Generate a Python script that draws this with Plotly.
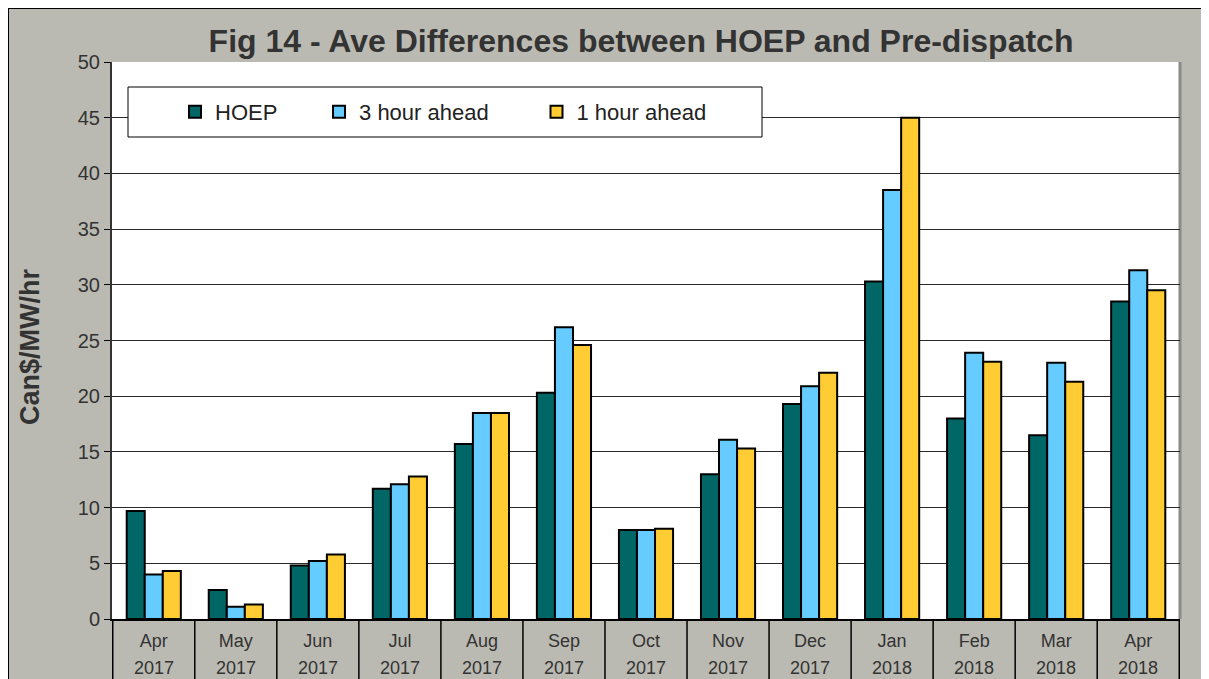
import plotly.graph_objects as go

months = ["Apr", "May", "Jun", "Jul", "Aug", "Sep", "Oct", "Nov", "Dec", "Jan", "Feb", "Mar", "Apr"]
years = ["2017"] * 9 + ["2018"] * 4
cats = [f"{m} {y}" for m, y in zip(months, years)]

hoep = [9.7, 2.6, 4.8, 11.7, 15.7, 20.3, 8.0, 13.0, 19.3, 30.3, 18.0, 16.5, 28.5]
three_hr = [4.0, 1.1, 5.2, 12.1, 18.5, 26.2, 8.0, 16.1, 20.9, 38.5, 23.9, 23.0, 31.3]
one_hr = [4.3, 1.3, 5.8, 12.8, 18.5, 24.6, 8.1, 15.3, 22.1, 45.0, 23.1, 21.3, 29.5]

series_names = ["HOEP", "3 hour ahead", "1 hour ahead"]
series_vals = [hoep, three_hr, one_hr]
series_colors = ["#006666", "#66ccff", "#ffcc33"]
legend_pad = [6, 7, 0]  # trailing non-breaking spaces for legend spacing

# page body has an 8px margin: reference pixel coords -> figure coords
OFF = 8
W, H = 1209, 679
ml = 112 - OFF
mt = 62 - OFF
plot_right = 1180 - OFF
plot_bottom = 619 - OFF
mr = W - plot_right
mb = H - plot_bottom
pw, ph = W - ml - mr, H - mt - mb

def px(xref_pix):
    return (xref_pix - OFF - ml) / pw

def py(yref_pix):
    return (H - mb - (yref_pix - OFF)) / ph

fig = go.Figure()
for name, vals, col, pad in zip(series_names, series_vals, series_colors, legend_pad):
    fig.add_trace(go.Bar(x=cats, y=vals, name=name + "\u00a0" * pad,
                         marker=dict(color=col, line=dict(color="black", width=2))))

shapes = [
    dict(type="rect", xref="paper", yref="paper", x0=px(8), x1=px(1300), y0=py(760), y1=py(8),
         fillcolor="#bbbab2", line=dict(color="black", width=2), layer="below"),
    dict(type="rect", xref="x domain", yref="y domain", x0=0, x1=1, y0=0, y1=1,
         fillcolor="white", line=dict(width=0), layer="below"),
    dict(type="line", xref="x domain", yref="y domain", x0=1, x1=1, y0=0, y1=1,
         line=dict(color="#8a8a8a", width=3), layer="below"),
    dict(type="rect", xref="paper", yref="paper", x0=px(128), x1=px(762), y0=py(137), y1=py(87),
         fillcolor="white", line=dict(color="black", width=1)),
]
for i in range(len(cats) + 1):
    shapes.append(dict(type="line", xref="x", yref="paper", x0=i - 0.5, x1=i - 0.5, y0=0, y1=py(720),
                       line=dict(color="black", width=1.5)))

annotations = []
for c, y in zip(cats, years):
    annotations.append(dict(x=c, y=py(668), xref="x", yref="paper", text=y, showarrow=False,
                            font=dict(size=18, color="#333333"), yanchor="middle"))
annotations.append(dict(x=px(30), y=py(347), xref="paper", yref="paper", text="<b>Can$/MW/hr</b>",
                        textangle=-90, showarrow=False, xanchor="center", yanchor="middle",
                        font=dict(size=27, color="#333333")))

fig.update_layout(
    width=W, height=H,
    margin=dict(l=ml, r=mr, t=mt, b=mb),
    paper_bgcolor="white", plot_bgcolor="white",
    font=dict(family="Liberation Sans, Arial, sans-serif", color="#333333"),
    title=dict(text="<b>Fig 14 - Ave Differences between HOEP and Pre-dispatch</b>",
               xref="paper", x=px(641), xanchor="center", y=1 - (41 - OFF) / H, yanchor="middle",
               font=dict(size=32, color="#333333")),
    barmode="group", bargap=0.34, bargroupgap=0,
    showlegend=True,
    legend=dict(orientation="h", x=px(175), xanchor="left", y=py(112), yanchor="middle",
                bgcolor="rgba(0,0,0,0)", font=dict(size=22, color="#222222"),
                traceorder="normal", itemclick=False),
    shapes=shapes,
    annotations=annotations,
)
fig.update_xaxes(type="category", tickvals=cats, ticktext=months, ticks="", showgrid=False,
                 showline=True, linecolor="black", linewidth=2,
                 tickfont=dict(size=18, color="#333333"), ticklabelstandoff=4,
                 automargin=False, fixedrange=True)
fig.update_yaxes(range=[0, 50], dtick=5, ticks="outside", ticklen=6, tickcolor="black",
                 showgrid=True, gridcolor="#2a2a2a", gridwidth=1, zeroline=False,
                 showline=True, linecolor="#333333", linewidth=2,
                 tickfont=dict(size=20, color="#333333"), automargin=False)

fig.write_html("out.html")
